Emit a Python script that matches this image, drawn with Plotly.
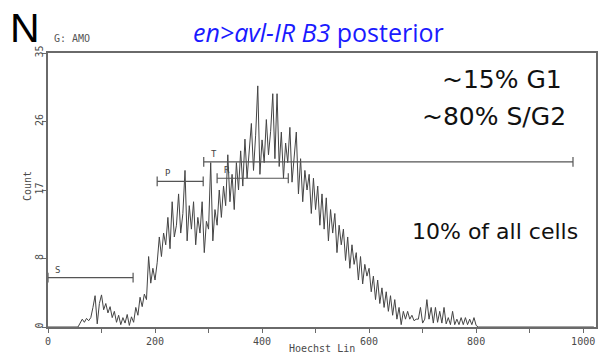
import plotly.graph_objects as go

# Histogram: channel (Hoechst Lin) every 4 channels, counts
channels = list(range(0, 1024, 4))
counts_nonzero = {
    60: 0.5, 64: 1.0, 68: 0.6, 72: 1.1, 76: 0.8, 80: 1.2, 84: 2.5, 88: 4.0,
    92: 0.4, 96: 3.0, 100: 4.1, 104: 2.2, 108: 3.0, 112: 1.8, 116: 2.6, 120: 1.2,
    124: 2.0, 128: 0.6, 132: 1.5, 136: 0.3, 140: 1.2, 144: 0.5, 148: 1.6, 152: 0.2,
    156: 1.3, 160: 0.6, 164: 2.5, 168: 1.5, 172: 3.8, 176: 2.6, 180: 4.2, 184: 3.5,
    188: 9.0, 192: 5.6, 196: 7.5, 200: 6.0, 204: 8.2, 208: 11.5, 212: 9.0, 216: 12.0,
    220: 10.5, 224: 14.0, 228: 10.0, 232: 16.0, 236: 11.5, 240: 13.0, 244: 17.0, 248: 12.0,
    252: 14.5, 256: 20.0, 260: 11.0, 264: 15.5, 268: 12.5, 272: 16.0, 276: 10.5, 280: 14.0,
    284: 12.0, 288: 16.0, 292: 9.5, 296: 13.5, 300: 12.5, 304: 21.0, 308: 11.0, 312: 15.0,
    316: 13.0, 320: 17.5, 324: 14.0, 328: 18.0, 332: 15.5, 336: 22.0, 340: 16.0, 344: 19.5,
    348: 15.0, 352: 21.0, 356: 17.5, 360: 22.5, 364: 18.0, 368: 24.0, 372: 19.0, 376: 23.0,
    380: 26.0, 384: 20.0, 388: 24.5, 392: 30.8, 396: 19.5, 400: 23.9, 404: 21.0, 408: 26.5,
    412: 22.0, 416: 25.0, 420: 29.8, 424: 21.5, 428: 29.8, 432: 20.5, 436: 24.9, 440: 19.0,
    444: 23.5, 448: 21.0, 452: 25.5, 456: 18.5, 460: 22.0, 464: 24.9, 468: 17.0, 472: 21.5,
    476: 16.0, 480: 20.0, 484: 17.5, 488: 19.5, 492: 14.5, 496: 19.0, 500: 15.0, 504: 18.0,
    508: 13.0, 512: 17.0, 516: 12.5, 520: 16.5, 524: 11.0, 528: 15.0, 532: 12.0, 536: 14.5,
    540: 9.5, 544: 13.0, 548: 10.5, 552: 12.5, 556: 8.5, 560: 11.5, 564: 7.5, 568: 10.5,
    572: 8.0, 576: 9.5, 580: 6.0, 584: 9.0, 588: 5.5, 592: 8.0, 596: 6.5, 600: 7.5,
    604: 4.5, 608: 6.5, 612: 3.5, 616: 6.0, 620: 3.0, 624: 5.0, 628: 2.5, 632: 4.5,
    636: 2.0, 640: 4.0, 644: 1.5, 648: 3.5, 652: 1.0, 656: 2.5, 660: 0.3, 664: 2.0,
    668: 1.0, 672: 2.0, 676: 1.0, 680: 1.5, 684: 0.8, 688: 1.0, 692: 1.0, 696: 2.5,
    700: 0.5, 704: 1.0, 708: 3.5, 712: 1.0, 716: 2.5, 720: 0.5, 724: 2.5, 728: 0.6,
    732: 2.0, 736: 0.5, 740: 2.5, 744: 0.4, 748: 1.2, 752: 0.3, 756: 2.0, 760: 0.3,
    764: 1.0, 768: 0.3, 772: 1.2, 776: 0.3, 780: 1.2, 784: 0.3, 788: 1.0, 792: 0.3,
    796: 1.2, 800: 0.2,
}
counts = [counts_nonzero.get(c, 0.0) for c in channels]

# Gates (markers)
gate_names = ["S", "P", "T", "R"]
gate_start = [0, 204, 291, 316]
gate_end = [159, 290, 981, 449]
gate_level = [6.3, 18.6, 21.1, 19.0]

# Axis ticks
x_ticks = [0, 200, 400, 600, 800, 1000]
y_tickvals = [0, 8.75, 17.5, 26.25, 35]
y_ticktext = ["0", "8", "17", "26", "35"]

AX = "#6a6a6a"
TXT = "#4a4a4a"
MONO = "DejaVu Sans Mono"

fig = go.Figure()
fig.add_trace(go.Scatter(x=channels, y=counts, mode="lines",
                         line=dict(color="#444444", width=1, shape="linear"),
                         showlegend=False, hoverinfo="skip"))

annotations = []
for name, s, e, lv in zip(gate_names, gate_start, gate_end, gate_level):
    fig.add_trace(go.Scatter(x=[s, e], y=[lv, lv], mode="lines+markers",
                             line=dict(color="#555555", width=1.2),
                             marker=dict(symbol="line-ns", size=7,
                                         line=dict(color="#555555", width=1.2)),
                             showlegend=False, hoverinfo="skip", cliponaxis=False))
    annotations.append(dict(x=s + 10, y=lv, xref="x", yref="y", text=name,
                            showarrow=False, xanchor="left", yanchor="bottom",
                            yshift=1, font=dict(family=MONO, size=9, color="#444444")))

def px2paper(px, py):
    return (px - 48) / 548.0, (327 - py) / 274.0

def add_text(text, px, py, size, color, family, xanchor="center", angle=0):
    x, y = px2paper(px, py)
    annotations.append(dict(x=x, y=y, xref="paper", yref="paper", text=text,
                            showarrow=False, xanchor=xanchor, yanchor="middle",
                            textangle=angle,
                            font=dict(family=family, size=size, color=color)))

add_text("N", 25, 28, 41, "#000000", "Liberation Sans")
add_text("G: AMO", 72, 38, 10, "#555555", MONO)
add_text("<i>en&gt;avl-IR B3</i> posterior", 318, 32, 25, "#1a1aff", "Open Sans")
add_text("~15% G1", 564, 79, 25, "#111111", "DejaVu Sans", xanchor="right")
add_text("~80% S/G2", 568, 116, 25, "#111111", "DejaVu Sans", xanchor="right")
add_text("10% of all cells", 580, 231, 22, "#111111", "DejaVu Sans", xanchor="right")
add_text("Hoechst Lin", 322, 348, 10, TXT, MONO)
add_text("Count", 27, 186, 10, TXT, MONO, angle=-90)

fig.update_layout(
    width=605, height=354,
    margin=dict(l=48, r=9, t=53, b=27, autoexpand=False),
    paper_bgcolor="white", plot_bgcolor="white",
    annotations=annotations,
    font=dict(family=MONO, size=9, color=TXT),
)
fig.update_xaxes(range=[0, 1024], tickvals=x_ticks, ticks="outside", ticklen=4,
                 tickcolor=AX, showline=True, linecolor=AX, linewidth=1.5, mirror=True,
                 showgrid=False, zeroline=False, automargin=False,
                 tickfont=dict(family=MONO, size=10, color=TXT),
                 minor=dict(dtick=100, tick0=0, ticks="outside", ticklen=4, tickcolor=AX))
fig.update_yaxes(range=[0, 35], tickvals=y_tickvals, ticktext=y_ticktext,
                 ticks="outside", ticklen=4, tickcolor=AX, tickangle=-90,
                 ticklabelstandoff=-5,
                 showline=True, linecolor=AX, linewidth=1.5, mirror=True,
                 showgrid=False, zeroline=False, automargin=False,
                 tickfont=dict(family=MONO, size=10, color=TXT))

fig.write_html("out.html")
